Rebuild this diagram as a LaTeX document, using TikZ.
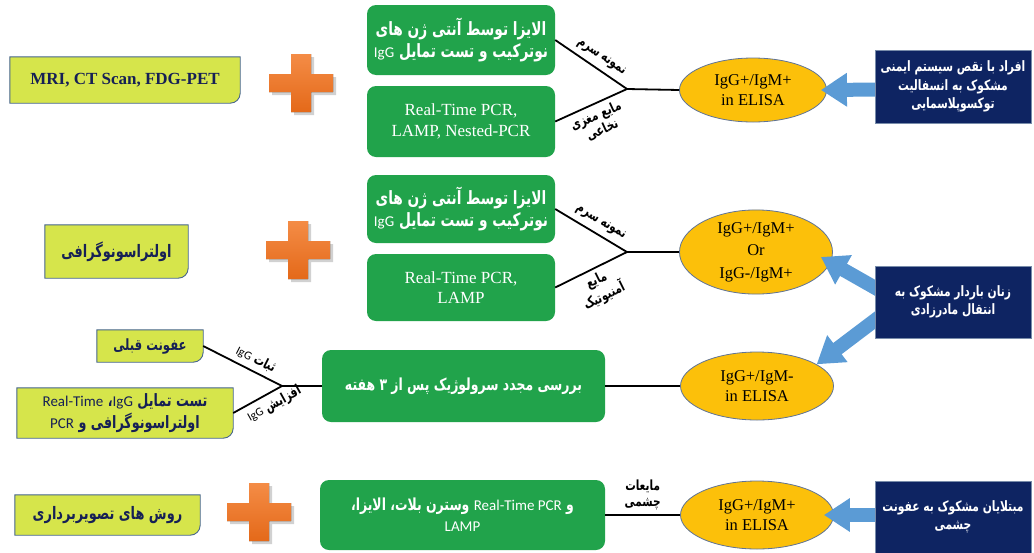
\documentclass[tikz,border=0pt]{standalone}
\usepackage{fontspec}
\setmainfont{Liberation Serif}
\newfontfamily\arfont[Script=Arabic, FakeStretch=0.75]{DejaVu Sans}
\newfontfamily\carl{Carlito}
\TeXXeTstate=1
\usetikzlibrary{shapes.geometric,arrows.meta,calc}
\pgfdeclarelayer{background}
\pgfdeclarelayer{front}
\pgfsetlayers{background,main,front}
\newcommand{\rtltxt}[1]{\beginR#1\endR}
\newcommand{\ltrtxt}[1]{\beginL#1\endL}
\newcommand{\latin}[1]{{\carl\mdseries\fontsize{15}{21}\selectfont #1}}
\newcommand{\latinsm}[1]{{\carl\mdseries\fontsize{12}{15}\selectfont #1}}
\definecolor{grn}{RGB}{33,163,75}
\definecolor{yfill}{RGB}{214,229,75}
\definecolor{yline}{RGB}{70,100,140}
\definecolor{ytext}{RGB}{22,32,85}
\definecolor{ellfill}{RGB}{252,192,10}
\definecolor{ellline}{RGB}{95,115,150}
\definecolor{navy}{RGB}{14,36,98}
\definecolor{navyline}{RGB}{120,140,170}
\definecolor{arrblue}{RGB}{91,155,213}
\definecolor{plustop}{RGB}{244,140,70}
\definecolor{plusbot}{RGB}{228,105,25}
\newcommand{\yelbg}[1]{\begin{pgfonlayer}{background}\filldraw[yelshape] (#1.south west) -- (#1.north west) -- (#1.north east) [rounded corners=10pt] -- (#1.south east) [sharp corners] -- cycle;\end{pgfonlayer}}
\begin{document}
\begin{tikzpicture}[x=1pt,y=-1pt,
  line/.style={draw=black, line width=1.8pt},
  grnbox/.style={fill=grn, rounded corners=9pt, text=white, align=center, inner sep=2pt},
  grnfa/.style={font=\arfont\bfseries\fontsize{18.3}{22.5}\selectfont},
  grnlat/.style={font=\fontsize{17}{20.5}\selectfont},
  ellbox/.style={ellipse, fill=ellfill, draw=ellline, line width=0.8pt, inner sep=0pt, align=center, font=\fontsize{16.5}{20.5}\selectfont},
  navybox/.style={fill=navy, draw=navyline, line width=1pt, text=white, align=center, inner sep=2pt, minimum width=156pt, font=\arfont\bfseries\fontsize{14.3}{18.5}\selectfont},
  yelbox/.style={text=ytext, align=center, inner sep=2pt},
  yelfa/.style={font=\arfont\bfseries\fontsize{17.2}{22}\selectfont},
  yelshape/.style={fill=yfill, draw=yline, line width=0.9pt},
  lbl/.style={font=\arfont\bfseries\fontsize{14}{15.5}\selectfont, inner sep=1.5pt, align=center},
  bigarrow/.style={draw=arrblue, line width=14pt, -{Triangle[width=32pt,length=26pt]}},
  plussign/.pic={
    \fill[black, opacity=.18, shift={(3,3)}] (-10,-29) -- (10,-29) -- (10,-9) -- (32,-9) -- (32,9) -- (10,9) -- (10,29) -- (-10,29) -- (-10,9) -- (-32,9) -- (-32,-9) -- (-10,-9) -- cycle;
    \fill[top color=plustop, bottom color=plusbot] (-10,-29) -- (10,-29) -- (10,-9) -- (32,-9) -- (32,9) -- (10,9) -- (10,29) -- (-10,29) -- (-10,9) -- (-32,9) -- (-32,-9) -- (-10,-9) -- cycle;
  }
]
\useasboundingbox (0,0) rectangle (1034,552);

% ---------- Row 1 ----------
\node[yelbox, minimum width=230pt, minimum height=46pt, font=\bfseries\fontsize{17}{20}\selectfont] (y1) at (125,80) {MRI, CT Scan, FDG-PET};
\yelbg{y1}
\pic at (301,83) {plussign};
\node[grnbox, grnfa, minimum width=188pt, minimum height=70pt] (g1) at (461,40)
  {\rtltxt{الایزا توسط آنتی ژن های}\\\rtltxt{نوترکیب و تست تمایل \ltrtxt{\latin{IgG}}}};
\node[grnbox, grnlat, minimum width=188pt, minimum height=71pt] (g2) at (461,121.5)
  {Real-Time PCR,\\LAMP, Nested-PCR};
\coordinate (j1) at (627,89);
\node[ellbox, minimum width=147pt, minimum height=64pt] (e1) at (753,90) {IgG+/IgM+\\in ELISA};
\draw[line] (g1.east) -- node[lbl, sloped, above=4pt, pos=0.55] {\rtltxt{نمونه سرم}} (j1);
\draw[line] (g2.east) -- node[lbl, sloped, below=3pt, pos=0.5] {\rtltxt{مایع مغزی}\\\rtltxt{نخاعی}} (j1);
\draw[line] (j1) -- (e1.west);

% ---------- Row 2 ----------
\node[yelbox, yelfa, minimum width=143pt, minimum height=53pt] (y2) at (116.5,251.5) {\rtltxt{اولتراسونوگرافی}};
\yelbg{y2}
\pic at (298,250) {plussign};
\node[grnbox, grnfa, minimum width=188pt, minimum height=68pt] (g3) at (461,209)
  {\rtltxt{الایزا توسط آنتی ژن های}\\\rtltxt{نوترکیب و تست تمایل \ltrtxt{\latin{IgG}}}};
\node[grnbox, grnlat, minimum width=188pt, minimum height=67pt] (g4) at (461,287.5)
  {Real-Time PCR,\\LAMP};
\coordinate (j2) at (627,252);
\node[ellbox, minimum width=153pt, minimum height=73pt, font=\fontsize{16.5}{22.5}\selectfont] (e2) at (756,252) {IgG+/IgM+\\Or\\IgG-/IgM+};
\draw[line] (g3.east) -- node[lbl, sloped, above=4pt, pos=0.55] {\rtltxt{نمونه سرم}} (j2);
\draw[line] (g4.east) -- node[lbl, sloped, below=3pt, pos=0.5] {\rtltxt{مایع}\\\rtltxt{آمنیوتیک}} (j2);
\draw[line] (j2) -- (e2.west);

% ---------- Row 3 ----------
\node[yelbox, minimum width=106pt, minimum height=32pt, font=\arfont\bfseries\fontsize{15.5}{20}\selectfont] (y3a) at (150,346) {\rtltxt{عفونت قبلی}};
\yelbg{y3a}
\node[yelbox, minimum width=216pt, minimum height=50pt, font=\arfont\bfseries\fontsize{17}{22}\selectfont] (y3b) at (125,413)
  {\rtltxt{تست تمایل \ltrtxt{\latin{IgG}}، \ltrtxt{\latin{Real-Time}}}\\\rtltxt{اولتراسونوگرافی و \ltrtxt{\latin{PCR}}}};
\yelbg{y3b}
\coordinate (j3) at (282,386);
\node[grnbox, minimum width=283pt, minimum height=72pt, font=\arfont\bfseries\fontsize{16.6}{21}\selectfont] (g5) at (463.5,386)
  {\rtltxt{بررسی مجدد سرولوژیک پس از ۳ هفته}};
\node[ellbox, minimum width=153pt, minimum height=68pt] (e3) at (757,386) {IgG+/IgM-\\in ELISA};
\draw[line] (y3a.east) -- node[lbl, sloped, above=3pt, pos=0.6] {\rtltxt{ثبات \ltrtxt{\latinsm{IgG}}}} (j3);
\draw[line] (y3b.east) -- node[lbl, sloped, below=3pt, pos=0.72] {\rtltxt{افزایش \ltrtxt{\latinsm{IgG}}}} (j3);
\draw[line] (j3) -- (g5.west);
\draw[line] (g5.east) -- (e3.west);

% ---------- Row 4 ----------
\node[yelbox, yelfa, minimum width=185pt, minimum height=40pt] (y4) at (107.5,515) {\rtltxt{روش های تصویربرداری}};
\yelbg{y4}
\pic at (259,512) {plussign};
\node[grnbox, minimum width=285pt, minimum height=70pt, font=\arfont\bfseries\fontsize{16.6}{21}\selectfont] (g6) at (462.5,515)
  {\rtltxt{وسترن بلات، الایزا،}\ \latin{Real-Time PCR} و\\\latin{LAMP}};
\node[ellbox, minimum width=153pt, minimum height=68pt] (e4) at (757,515) {IgG+/IgM+\\in ELISA};
\draw[line] (g6.east) -- node[lbl, above=3pt, midway] {\rtltxt{مایعات}\\\rtltxt{چشمی}} (e4.west);

% ---------- Navy boxes ----------
\begin{pgfonlayer}{front}
\node[navybox, minimum height=73pt] (n1) at (953,86.5) {\rtltxt{افراد با نقص سیستم ایمنی}\\\rtltxt{مشکوک به انسفالیت}\\\rtltxt{توکسوپلاسمایی}};
\node[navybox, minimum height=72pt] (n2) at (953,302) {\rtltxt{زنان باردار مشکوک به}\\\rtltxt{انتقال مادرزادی}};
\node[navybox, minimum height=72pt] (n3) at (953,517) {\rtltxt{مبتلایان مشکوک به عفونت}\\\rtltxt{چشمی}};
\end{pgfonlayer}

% ---------- Blue arrows ----------
\draw[bigarrow] ([shift={(10,3)}]n1.west) -- ([shift={(-6,0)}]e1.east);
\draw[bigarrow] ([shift={(8,-10)}]n2.west) -- ([shift={(-12,5)}]e2.east);
\draw[bigarrow] ([shift={(10,11)}]n2.west) -- (e3.20);
\draw[bigarrow] ([shift={(10,-2)}]n3.west) -- ([shift={(-10,0)}]e4.east);
\end{tikzpicture}
\end{document}
